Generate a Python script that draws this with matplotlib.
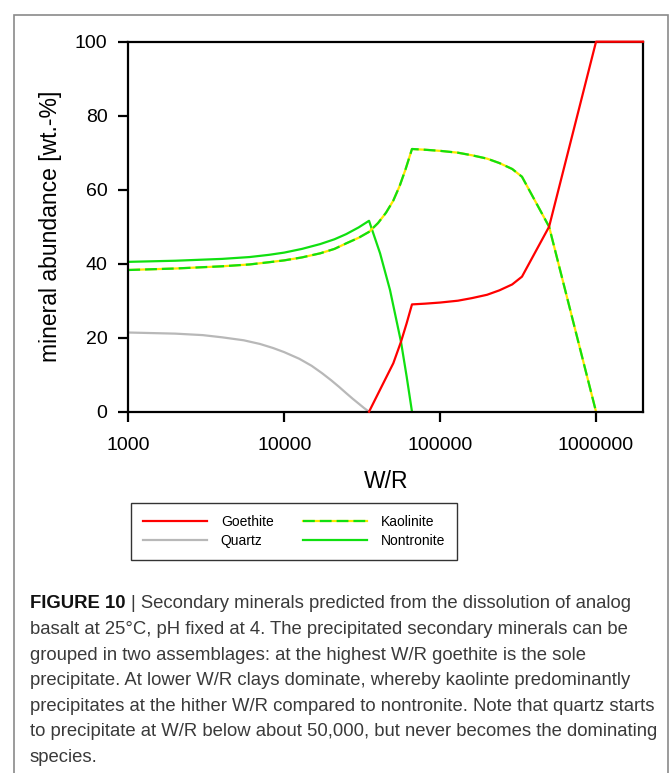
import matplotlib
matplotlib.use("Agg")
import matplotlib.pyplot as plt
from matplotlib.patches import Rectangle
from matplotlib.ticker import FixedLocator, FixedFormatter, NullLocator

plt.rcParams['font.family'] = ['Liberation Sans', 'DejaVu Sans']
plt.rcParams['lines.scale_dashes'] = False

# mineral abundance [wt.-%] against water/rock ratio
quartz_wr = [1000, 2000, 3000, 4000, 5500, 7000, 8500, 10000, 12500, 15000,
             17500, 20000, 22500, 25000, 27500, 30000, 32500, 35000]
quartz = [21.4, 21.1, 20.7, 20.1, 19.3, 18.3, 17.2, 16.1, 14.3, 12.4,
          10.4, 8.5, 6.7, 5.0, 3.5, 2.2, 1.0, 0]

nontronite_wr = [1000, 2000, 4000, 6000, 8000, 10000, 13000, 17000, 21000,
                 25000, 30000, 35000, 41200, 47700, 56100, 61000, 66000]
nontronite = [40.5, 40.8, 41.3, 41.8, 42.4, 43.0, 44.0, 45.3, 46.6,
              48.0, 49.8, 51.6, 42.8, 32.9, 18.9, 9.5, 0]

kaolinite_wr = [1000, 2000, 4000, 6000, 8000, 10000, 13000, 17000, 21000,
                25000, 30000, 35000, 40000, 45000, 50000, 55000, 60000,
                66000, 80000, 100000, 130000, 160000, 200000, 240000,
                290000, 335000, 500000, 1000000]
kaolinite = [38.3, 38.7, 39.3, 39.8, 40.4, 40.9, 41.7, 42.8, 44.0,
             45.5, 47.0, 48.6, 51.0, 53.8, 57.0, 61.0, 65.5,
             71.0, 70.8, 70.5, 70.0, 69.3, 68.4, 67.2,
             65.6, 63.5, 50.0, 0]

goethite_wr = [35000, 43200, 50100, 56100, 61000, 66000, 80000, 100000,
               130000, 160000, 200000, 240000, 290000, 335000, 500000,
               1000000, 2000000]
goethite = [0, 7.7, 13.1, 18.9, 23.9, 29.0, 29.2, 29.5,
            30.0, 30.7, 31.6, 32.8, 34.4, 36.5, 50.0,
            100, 100]

x_ticks = [1000, 10000, 100000, 1000000]
x_ticklabels = ['1000', '10000', '100000', '1000000']
y_ticks = [0, 20, 40, 60, 80, 100]

caption_bold = "FIGURE 10 "
caption_lines = [
    "| Secondary minerals predicted from the dissolution of analog",
    "basalt at 25°C, pH fixed at 4. The precipitated secondary minerals can be",
    "grouped in two assemblages: at the highest W/R goethite is the sole",
    "precipitate. At lower W/R clays dominate, whereby kaolinte predominantly",
    "precipitates at the hither W/R compared to nontronite. Note that quartz starts",
    "to precipitate at W/R below about 50,000, but never becomes the dominating",
    "species.",
]

W, H = 672, 773
fig = plt.figure(figsize=(W / 100, H / 100), dpi=100)

# grey frame round figure and caption
fig.patches.append(Rectangle((14 / W, -0.01), 654 / W, 1 - 15 / H + 0.01,
                             transform=fig.transFigure, fill=False,
                             edgecolor='#8a8a8a', lw=1.2))

ax = fig.add_axes([128.3 / W, 1 - 411.7 / H, 515 / W, 370 / H])

RED = '#ff0000'
GREEN = '#10e010'
YELLOW = '#ffe600'
GREY = '#b8b8b8'
LW = 1.6

l_q, = ax.plot(quartz_wr, quartz, color=GREY, lw=LW, zorder=2)
l_n, = ax.plot(nontronite_wr, nontronite, color=GREEN, lw=LW, zorder=2)
l_ky, = ax.plot(kaolinite_wr, kaolinite, color=YELLOW, lw=LW, zorder=2.1)
l_kg, = ax.plot(kaolinite_wr, kaolinite, color=GREEN, lw=LW, zorder=2.2,
                dashes=(8.5, 3.6))
l_g, = ax.plot(goethite_wr, goethite, color=RED, lw=LW, zorder=3, clip_on=False)

ax.set_xscale('log')
ax.set_xlim(1000, 2010000)
ax.set_ylim(0, 100)
ax.xaxis.set_major_locator(FixedLocator(x_ticks))
ax.xaxis.set_major_formatter(FixedFormatter(x_ticklabels))
ax.xaxis.set_minor_locator(NullLocator())
ax.set_yticks(y_ticks)

for s in ax.spines.values():
    s.set_linewidth(1.6)
ax.tick_params(axis='both', direction='out', length=7, width=1.6,
               labelsize=14, pad=8)
ax.tick_params(axis='x', pad=11)

ax.set_xlabel('W/R', fontsize=16.5)
ax.set_ylabel('mineral abundance [wt.-%]', fontsize=16.5)
ax.xaxis.set_label_coords(0.5, (411.7 - 470) / 370)
ax.yaxis.set_label_coords((62 - 128.3) / 515, 0.5)

leg = fig.legend([l_g, l_q, (l_ky, l_kg), l_n],
                 ['Goethite', 'Quartz', 'Kaolinite', 'Nontronite'],
                 ncol=2, loc='center', bbox_to_anchor=(294 / W, 1 - 531.5 / H),
                 fontsize=10, frameon=True, fancybox=False, edgecolor='black',
                 borderpad=0.85, handletextpad=1.0, handlelength=4.6,
                 columnspacing=2.1, labelspacing=0.35)
leg.get_frame().set_linewidth(1.0)

# caption below the chart
CAP = 13.3
y0 = 1 - 604 / H
step = 25.6 / H
t = fig.text(30 / W, y0, caption_bold, fontsize=CAP, fontweight='bold',
             color='#111111', va='center', ha='left')
ax.annotate(caption_lines[0], xy=(1, 0), xycoords=t, va='bottom', ha='left',
            fontsize=CAP, color='#3a3a3a', annotation_clip=False)
for i, line in enumerate(caption_lines[1:], start=1):
    fig.text(30 / W, y0 - i * step, line, fontsize=CAP, color='#3a3a3a',
             va='center', ha='left')

fig.savefig('out.png', dpi=100)
